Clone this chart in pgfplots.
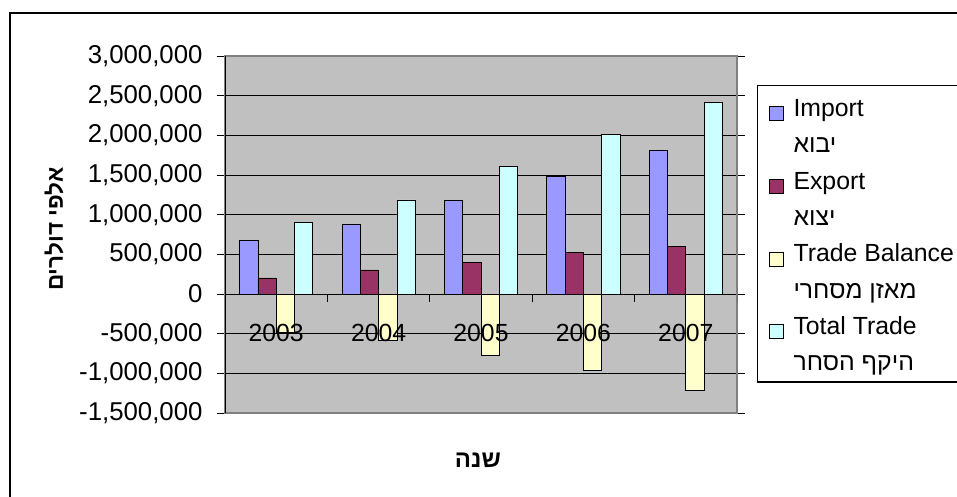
\documentclass[border=0pt]{standalone}
\usepackage{fontspec}
\setmainfont{Liberation Sans}
\newfontfamily\heb[Script=Hebrew]{Liberation Sans}
\TeXXeTstate=1
\usepackage{pgfplots}
\pgfplotsset{compat=1.18}

\definecolor{importc}{HTML}{9999FF}
\definecolor{exportc}{HTML}{993366}
\definecolor{balancec}{HTML}{FFFFCC}
\definecolor{totalc}{HTML}{CCFFFF}
\definecolor{plotbg}{HTML}{C0C0C0}
\definecolor{frameg}{HTML}{808080}

\newcommand{\bigfont}{\fontsize{24.8}{36.3}\selectfont}
\newcommand{\numfont}{\fontsize{25.8}{30}\selectfont}

\begin{document}
\bigfont
\begin{tikzpicture}
\draw[line width=2pt] (10pt,-20pt) rectangle (990pt,483pt);
\begin{axis}[
    at={(225pt,83pt)}, anchor=south west,
    scale only axis, width=512pt, height=357pt,
    ybar=0pt, bar width=18.3pt,
    xmin=-0.5, xmax=4.5,
    ymin=-1500000, ymax=3000000,
    xtick={0,1,2,3,4},
    xticklabels={},
    xtick style={draw=none},
    ytick distance=500000,
    scaled y ticks=false,
    ytick align=outside, major tick length=8pt,
    ytick style={black, line width=1pt},
    yticklabel style={font=\numfont,
        /pgf/number format/fixed,
        /pgf/number format/1000 sep={,},
        /pgf/number format/assume math mode=true,
        anchor=east, xshift=-6pt},
    ymajorgrids,
    grid style={black, line width=1pt},
    axis background/.style={fill=plotbg},
    axis line style={frameg, line width=1.5pt},
    ylabel={\bfseries\heb\beginR אלפי דולרים\endR},
    ylabel style={at={(axis description cs:-0.334,0.515)}, anchor=center,
        font=\fontsize{22.5}{26}\selectfont},
    xlabel={\bfseries\heb\beginR שנה\endR},
    xlabel style={at={(axis description cs:0.494,-0.132)}, anchor=center,
        font=\fontsize{24}{28}\selectfont},
    legend style={at={(axis description cs:1.039,0.919)}, anchor=north west,
        draw=black, line width=1.5pt, fill=white,
        inner xsep=11pt, inner ysep=3pt, column sep=10pt, row sep=0pt,
        font=\bigfont, nodes={inner sep=0pt, text height=28pt, text depth=8.3pt}},
    legend cell align=left,
    sq/.style={legend image code/.code={
        \draw[##1, draw=black, line width=0.8pt] (0pt,-14pt) rectangle (14pt,0pt);}},
]
\addplot[fill=importc, draw=black, line width=0.8pt, sq] coordinates
    {(0,680000) (1,882000) (2,1181000) (3,1487000) (4,1815000)};
\addlegendentry{Import}
\addlegendimage{empty legend}
\addlegendentry{\heb\beginR יבוא\endR}
\addplot[fill=exportc, draw=black, line width=0.8pt, sq] coordinates
    {(0,202000) (1,303000) (2,403000) (3,529000) (4,605000)};
\addlegendentry{Export}
\addlegendimage{empty legend}
\addlegendentry{\heb\beginR יצוא\endR}
\addplot[fill=balancec, draw=black, line width=0.8pt, sq] coordinates
    {(0,-478000) (1,-579000) (2,-778000) (3,-958000) (4,-1210000)};
\addlegendentry{Trade Balance}
\addlegendimage{empty legend}
\addlegendentry{\heb\beginR מאזן מסחרי\endR}
\addplot[fill=totalc, draw=black, line width=0.8pt, sq] coordinates
    {(0,907000) (1,1185000) (2,1613000) (3,2013000) (4,2420000)};
\addlegendentry{Total Trade}
\addlegendimage{empty legend}
\addlegendentry{\heb\beginR היקף הסחר\endR}
\pgfplotsinvokeforeach{0.5,1.5,2.5,3.5,4.5}{
    \draw[black, line width=1pt] (axis cs:#1,0) -- ++(0pt,-8pt);}
\draw[black, line width=1.5pt] (rel axis cs:0,0) -- (rel axis cs:0,1);
% year labels sit on top of the bars, as in the original
\node[font=\bigfont, anchor=center, yshift=-39pt] at (axis cs:0,0) {2003};
\node[font=\bigfont, anchor=center, yshift=-39pt] at (axis cs:1,0) {2004};
\node[font=\bigfont, anchor=center, yshift=-39pt] at (axis cs:2,0) {2005};
\node[font=\bigfont, anchor=center, yshift=-39pt] at (axis cs:3,0) {2006};
\node[font=\bigfont, anchor=center, yshift=-39pt] at (axis cs:4,0) {2007};
\end{axis}
\pgfresetboundingbox
\path[use as bounding box] (0,0) rectangle (957pt,496pt);
\end{tikzpicture}
\end{document}
